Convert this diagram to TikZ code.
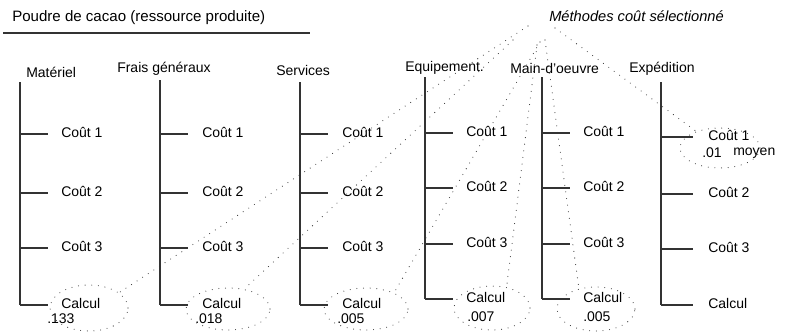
\documentclass[tikz,border=0pt]{standalone}
\usepackage{fontspec}
\setmainfont{Liberation Sans}
\usetikzlibrary{shapes.geometric}
\newcommand\txtsize{\fontsize{10.5}{12}\selectfont}
% one cost column: id, trunk x, trunk top, branch length, label x, four row heights
\newcommand\costcolumn[9]{%
  \coordinate (#1top) at (#2,#3);
  \coordinate (#1bot) at (#2,#9);
  \draw[trunk] (#1top) -- (#1bot);
  \foreach \yy/\txt/\k in {#6/Coût 1/1,#7/Coût 2/2,#8/Coût 3/3,#9/Calcul/4}{%
    \coordinate (#1b\k) at (#2,\yy);
    \draw[trunk] (#1b\k) -- ++(#4,0);
    \node[lbl] (#1t\k) at (#5,\yy-2) {\txt};
  }%
}
\begin{document}
\begin{tikzpicture}[x=0.75pt,y=-0.75pt,
  lbl/.style={inner sep=0pt,anchor=west,font=\txtsize},
  trunk/.style={line width=0.8pt,draw=black!80},
  dotl/.style={line width=0.8pt,line cap=round,dash pattern=on 0pt off 5pt,draw=black!80},
  ring/.style={ellipse,dotl,draw,inner sep=0pt}]
\useasboundingbox (0,0) rectangle (791,332);
\fill[white] (0,0) rectangle (791,332);

% resource title
\node[lbl,font=\fontsize{11.3}{13}\selectfont] (title) at (12,18) {Poudre de cacao (ressource produite)};
\coordinate (ulL) at (3,33);
\coordinate (ulR) at (310,33);
\draw[trunk] (ulL) -- (ulR);

% cost categories
\node[lbl] (h1) at (26,72) {Matériel};
\node[lbl] (h2) at (117,69) {Frais généraux};
\node[lbl] (h3) at (276,70) {Services};
\node[lbl] (h4) at (405,68) {Equipement.};
\node[lbl] (h5) at (510,68) {Main-d'oeuvre};
\node[lbl] (h6) at (629,69) {Expédition};

\costcolumn{c1}{20}{82}{28}{61}{134}{193}{248}{305}
\costcolumn{c2}{160}{80}{28}{202}{134}{193}{248}{305}
\costcolumn{c3}{300}{82}{28}{342}{134}{193}{248}{305}
\costcolumn{c4}{425}{77}{28}{466}{133}{188}{244}{299}
\costcolumn{c5}{542}{77}{28}{583}{133}{188}{244}{299}
\costcolumn{c6}{661}{82}{32}{708}{137}{194}{249}{305}

% computed values
\node[lbl] (v1) at (47,319) {.133};
\node[lbl] (v2) at (195,319) {.018};
\node[lbl] (v3) at (337,319) {.005};
\node[lbl] (v4) at (467,317) {.007};
\node[lbl] (v5) at (583,317) {.005};
\node[lbl] (v6) at (702,153) {.01};
\node[lbl] (v6m) at (733,153) {moyen};

% selected methods
\node[lbl,font=\itshape\fontsize{11}{13}\selectfont] (meth) at (549,16) {Méthodes coût sélectionné};
\node[ring,minimum width=58.5pt,minimum height=34.5pt] (e1) at (89,308) {};
\node[ring,minimum width=63pt,minimum height=31.5pt] (e2) at (228,309) {};
\node[ring,minimum width=63pt,minimum height=31.5pt] (e3) at (366,309) {};
\node[ring,minimum width=57pt,minimum height=33pt] (e4) at (492,308) {};
\node[ring,minimum width=58.5pt,minimum height=33pt] (e5) at (596,309) {};
\node[ring,minimum width=60pt,minimum height=30pt] (e6) at (720,148) {};

\coordinate (m1) at (528,26);
\coordinate (m2) at (513,40);
\coordinate (m3) at (540,42);
\coordinate (m4) at (537,45);
\coordinate (m5) at (545,40);
\coordinate (m6) at (555,28);
\draw[dotl] (m1) -- (e1.27);
\draw[dotl] (m2) -- (e2.51);
\draw[dotl] (m3) -- (e3.30);
\draw[dotl] (m4) -- (e4.55);
\draw[dotl] (m5) -- (e5.130);
\draw[dotl] (m6) -- (e6.145);
\end{tikzpicture}
\end{document}
